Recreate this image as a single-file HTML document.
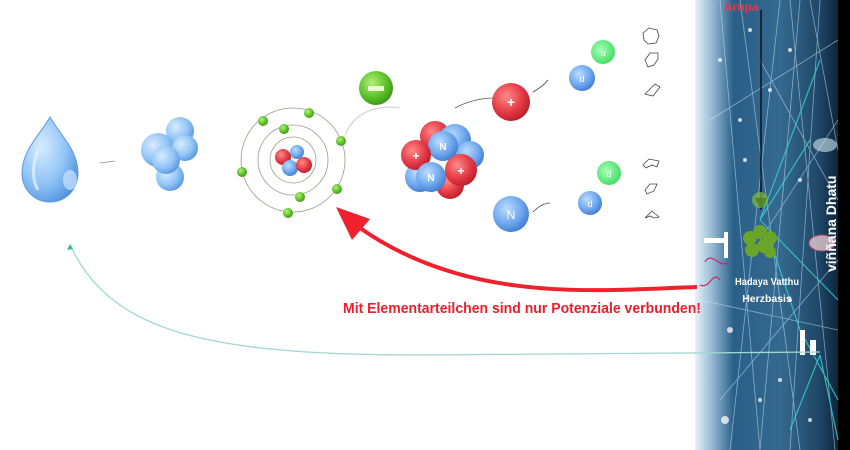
<!DOCTYPE html>
<html><head><meta charset="utf-8"><style>
html,body{margin:0;padding:0;background:#fff;}
svg{display:block;font-family:"Liberation Sans",sans-serif;}
</style></head><body>
<svg width="850" height="450" viewBox="0 0 850 450" xmlns="http://www.w3.org/2000/svg">
<defs>
<linearGradient id="panel" x1="0" x2="1" y1="0" y2="0">
<stop offset="0" stop-color="#e8f2f8"/><stop offset="0.1" stop-color="#9cc0d8"/>
<stop offset="0.25" stop-color="#2a5f88"/><stop offset="0.55" stop-color="#35698f"/>
<stop offset="0.8" stop-color="#1f4768"/><stop offset="0.93" stop-color="#0d2238"/><stop offset="1" stop-color="#000"/>
</linearGradient>
<radialGradient id="blue" cx="0.38" cy="0.35" r="0.7"><stop offset="0" stop-color="#bcdcff"/><stop offset="0.6" stop-color="#6fa8ee"/><stop offset="1" stop-color="#3f7bd0"/></radialGradient>
<radialGradient id="red" cx="0.38" cy="0.35" r="0.7"><stop offset="0" stop-color="#ff8a8a"/><stop offset="0.6" stop-color="#e43b45"/><stop offset="1" stop-color="#b81c28"/></radialGradient>
<radialGradient id="green" cx="0.38" cy="0.35" r="0.7"><stop offset="0" stop-color="#b6ee7a"/><stop offset="0.6" stop-color="#5cc22a"/><stop offset="1" stop-color="#3d9415"/></radialGradient>
<radialGradient id="qg" cx="0.4" cy="0.4" r="0.7"><stop offset="0" stop-color="#a8ffb8"/><stop offset="1" stop-color="#38d95a"/></radialGradient>
<radialGradient id="water" cx="0.35" cy="0.35" r="0.75"><stop offset="0" stop-color="#d8ecff"/><stop offset="0.6" stop-color="#8ec2f5"/><stop offset="1" stop-color="#4d8fdc"/></radialGradient>
</defs>

<!-- right panel -->
<rect x="695" y="0" width="155" height="450" fill="url(#panel)"/>
<rect x="838" y="0" width="12" height="450" fill="#000"/>
<g stroke="#cfeeff" stroke-width="0.8" opacity="0.55">
<path d="M720 0 L760 450 M740 0 L800 450 M780 0 L730 450 M800 0 L760 450 M820 0 L790 450 M760 60 L838 200 M710 120 L838 40 M700 300 L838 330 M720 400 L838 260 M760 240 L838 120 M790 0 L835 450 M810 0 L838 150"/>
</g>
<g stroke="#35d6d0" stroke-width="1.2" fill="none" opacity="0.8">
<path d="M760 220 L820 60 M760 220 L838 300 M770 240 L800 330 L838 400 M760 220 L810 140 M820 355 L838 440 M820 355 L790 430"/>
</g>
<g fill="#fff" opacity="0.75">
<circle cx="720" cy="60" r="2"/><circle cx="740" cy="120" r="2"/><circle cx="770" cy="90" r="2"/><circle cx="800" cy="180" r="2"/><circle cx="730" cy="330" r="3"/><circle cx="780" cy="380" r="2"/><circle cx="810" cy="420" r="2"/><circle cx="725" cy="420" r="4"/>
<circle cx="750" cy="30" r="2"/><circle cx="790" cy="50" r="2"/><circle cx="745" cy="160" r="2"/><circle cx="790" cy="300" r="2"/><circle cx="760" cy="400" r="2"/>
</g>
<ellipse cx="825" cy="145" rx="12" ry="7" fill="#cfe6ef" opacity="0.6"/>
<ellipse cx="822" cy="243" rx="13" ry="8" fill="#e6c7cf" opacity="0.8" stroke="#d04070"/>
<line x1="761" y1="10" x2="761" y2="200" stroke="#000" stroke-width="1.2"/>
<path d="M755 198 L767 198 L761 210Z" fill="#000"/>
<g fill="#6aa52a">
<circle cx="750" cy="238" r="7"/><circle cx="760" cy="232" r="7"/><circle cx="770" cy="238" r="7"/><circle cx="752" cy="250" r="7"/><circle cx="764" cy="246" r="7"/><circle cx="770" cy="252" r="6"/><circle cx="760" cy="200" r="8" fill="#7cbc3a" opacity="0.7"/>
</g>
<rect x="704" y="238" width="22" height="5" fill="#fff"/><rect x="724" y="232" width="4" height="26" fill="#fff"/>
<path d="M705 262 C712 250 720 270 728 262 M700 285 C710 290 712 270 720 280" stroke="#d02060" fill="none" stroke-width="1.2"/>
<text x="724" y="11" fill="#e8374a" font-size="12" font-weight="bold">Arupa</text>
<text x="767" y="285" fill="#fff" font-size="10.5" font-weight="bold" text-anchor="middle" textLength="64" lengthAdjust="spacingAndGlyphs">Hadaya Vatthu</text>
<text x="767" y="302" fill="#fff" font-size="10.5" font-weight="bold" text-anchor="middle">Herzbasis</text>
<text transform="translate(836,272) rotate(-90)" fill="#fff" font-size="14" font-weight="bold">viññana Dhatu</text>
<rect x="800" y="330" width="5" height="25" fill="#fff"/><rect x="810" y="340" width="6" height="15" fill="#fff"/>

<!-- faint long curve -->
<path d="M70 245 C110 330 200 355 420 355 L820 352" stroke="#9fd8d0" stroke-width="1.3" fill="none"/>
<path d="M67 250 l3 -6 l3 5z" fill="#2bc090"/>

<!-- drop -->
<path d="M50 117 C40 135 22 150 22 173 C22 190 35 202 50 202 C65 202 78 190 78 173 C78 150 60 135 50 117Z" fill="url(#water)" stroke="#5a9be0" stroke-width="1"/>
<ellipse cx="70" cy="180" rx="7" ry="10" fill="#cfe6ff" opacity="0.7"/>
<path d="M38 150 C32 165 32 180 38 190" stroke="#eaf5ff" stroke-width="3" fill="none" opacity="0.7"/>
<line x1="100" y1="163" x2="115" y2="161" stroke="#888" stroke-width="0.8"/>

<!-- molecule -->
<g fill="url(#water)">
<circle cx="180" cy="131" r="14"/><circle cx="158" cy="150" r="17"/><circle cx="185" cy="148" r="13"/><circle cx="170" cy="177" r="14"/><circle cx="166" cy="160" r="14"/>
</g>

<!-- atom -->
<g fill="none" stroke="#9a9a8a" stroke-width="0.8">
<circle cx="293" cy="160" r="23"/><circle cx="293" cy="160" r="35"/><circle cx="293" cy="160" r="52"/>
</g>
<circle cx="283" cy="157" r="8" fill="url(#red)"/><circle cx="297" cy="152" r="7" fill="url(#blue)"/><circle cx="290" cy="168" r="8" fill="url(#blue)"/><circle cx="304" cy="165" r="8" fill="url(#red)"/>
<g fill="url(#green)">
<circle cx="309" cy="113" r="5"/><circle cx="263" cy="121" r="5"/><circle cx="284" cy="129" r="5"/><circle cx="341" cy="141" r="5"/><circle cx="242" cy="172" r="5"/><circle cx="337" cy="189" r="5"/><circle cx="300" cy="197" r="5"/><circle cx="288" cy="213" r="5"/>
</g>
<circle cx="376" cy="88" r="17" fill="url(#green)"/>
<rect x="368" y="86" width="16" height="5" fill="#e8ffd0"/>
<path d="M345 135 C355 110 380 105 400 108" stroke="#ccc" fill="none"/>

<!-- nucleus -->
<g>
<circle cx="435" cy="136" r="15" fill="url(#red)"/><circle cx="455" cy="140" r="16" fill="url(#blue)"/><circle cx="470" cy="155" r="14" fill="url(#blue)"/>
<circle cx="420" cy="177" r="15" fill="url(#blue)"/><circle cx="450" cy="185" r="14" fill="url(#red)"/>
<circle cx="443" cy="146" r="15" fill="url(#blue)"/>
<circle cx="416" cy="155" r="15" fill="url(#red)"/>
<circle cx="431" cy="177" r="15" fill="url(#blue)"/>
<circle cx="461" cy="170" r="16" fill="url(#red)"/>
</g>
<g fill="#fff" font-size="12" font-weight="bold" text-anchor="middle">
<text x="416" y="160">+</text><text x="461" y="175">+</text><text x="443" y="150" font-size="10">N</text><text x="431" y="181" font-size="10">N</text>
</g>
<path d="M455 108 C470 100 485 98 495 98" stroke="#555" fill="none" stroke-width="0.8"/>

<!-- proton / neutron -->
<circle cx="511" cy="102" r="19" fill="url(#red)"/>
<text x="511" y="107" fill="#fff" font-size="14" font-weight="bold" text-anchor="middle">+</text>
<circle cx="511" cy="214" r="18" fill="url(#blue)"/>
<text x="511" y="219" fill="#fff" font-size="12" text-anchor="middle">N</text>
<path d="M533 92 C540 88 545 84 548 80 M533 212 C540 205 545 203 550 203" stroke="#444" fill="none" stroke-width="0.8"/>

<!-- quarks -->
<circle cx="603" cy="52" r="12" fill="url(#qg)"/><text x="603" y="56" fill="#fff" font-size="9" text-anchor="middle">u</text>
<circle cx="582" cy="78" r="13" fill="url(#blue)"/><text x="582" y="82" fill="#fff" font-size="9" text-anchor="middle">d</text>
<circle cx="609" cy="173" r="12" fill="url(#qg)"/><text x="609" y="177" fill="#fff" font-size="9" text-anchor="middle">d</text>
<circle cx="590" cy="203" r="12" fill="url(#blue)"/><text x="590" y="207" fill="#fff" font-size="9" text-anchor="middle">d</text>
<g fill="none" stroke="#444" stroke-width="0.8">
<path d="M643 33 l6 -5 l8 2 l2 6 l-3 7 l-8 1 l-4 -4z"/><path d="M645 60 l5 -7 l8 0 l0 6 l-4 6 l-6 2z"/><path d="M645 94 l10 -10 l5 3 l-7 9z"/>
<path d="M643 165 l6 -6 l10 2 l-2 6 l-5 -2 l-6 3z"/><path d="M645 190 l5 -6 l7 0 l-3 7 l-7 3z"/><path d="M645 218 l7 -7 l7 6 l-5 1 l-4 -2z"/>
</g>

<!-- red arrow -->
<path d="M697 287 C600 290 470 305 360 228" stroke="#f0202c" stroke-width="4" fill="none"/>
<path d="M336 207 L370 219 L352 240 Z" fill="#f0202c"/>
<text x="343" y="313" fill="#ee1c2c" font-size="14.5" font-weight="bold" textLength="358" lengthAdjust="spacingAndGlyphs">Mit Elementarteilchen sind nur Potenziale verbunden!</text>
</svg>
</body></html>
